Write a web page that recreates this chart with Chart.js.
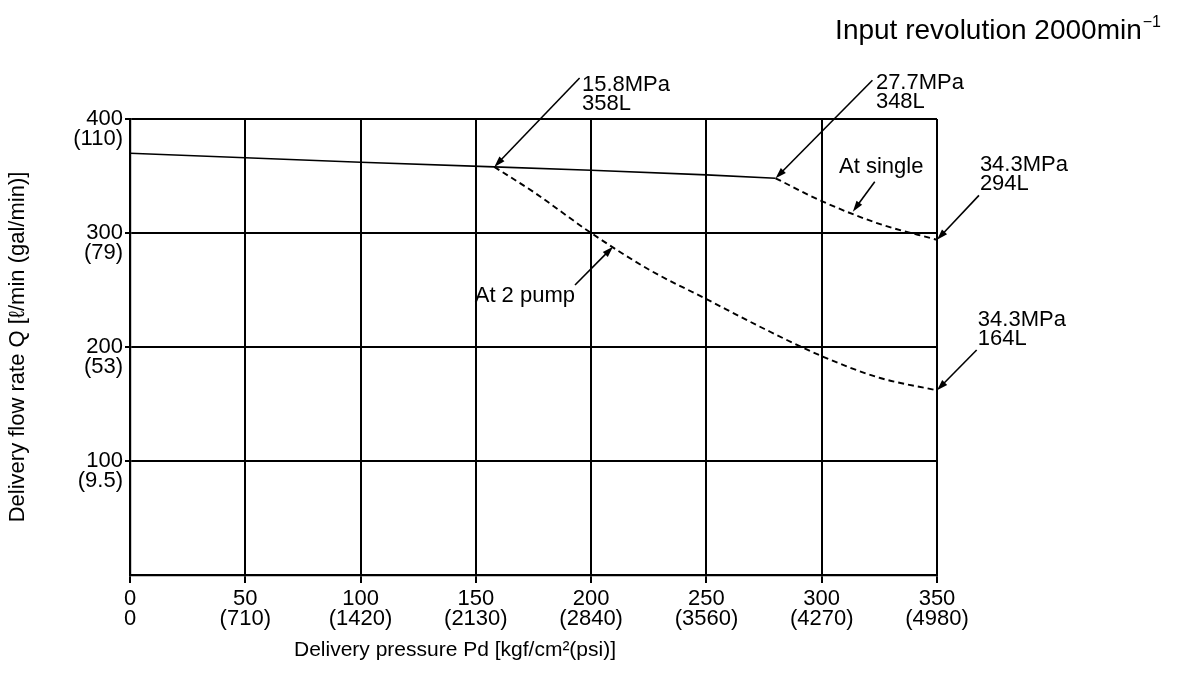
<!DOCTYPE html>
<html>
<head>
<meta charset="utf-8">
<script src="https://cdn.jsdelivr.net/npm/chart.js@4.4.1/dist/chart.umd.min.js"></script>
<style>
  html, body { margin: 0; padding: 0; background: #fff; }
  #wrap { width: 1181px; height: 690px; position: relative; }
</style>
</head>
<body>
<div id="wrap"><canvas id="chart"></canvas></div>
<script>
// ====== tick labels ======
const pressureTicks = [0, 50, 100, 150, 200, 250, 300, 350];
const psiLabels = ["0", "(710)", "(1420)", "(2130)", "(2840)", "(3560)", "(4270)", "(4980)"];
const flowTicks = [100, 200, 300, 400];
const galLabels = ["(9.5)", "(53)", "(79)", "(110)"];

// ====== curves (kgf/cm2 , L/min) ======
const baseP = [0, 50, 100, 158, 200, 250, 280];
const baseQ = [370, 366, 362, 358, 355, 351, 348];
const singleP = [280, 300, 325, 350];
const singleQ = [348, 328, 308, 294];
const twoP = [158, 175, 200, 225, 250, 275, 300, 325, 350];
const twoQ = [358, 336, 300, 268, 242, 216, 192, 173, 162];

// ====== callouts (data units) ======
const notes = [
  { text: ["15.8MPa", "358L"], at: [196, 430], from: [195, 436], to: [158, 358] },
  { text: ["27.7MPa", "348L"], at: [323.5, 431.5], from: [322, 434], to: [280, 348] },
  { text: ["At single"], at: [307.5, 358], from: [323, 345], to: [313.5, 318.7] },
  { text: ["34.3MPa", "294L"], at: [368.6, 359.6], from: [368.2, 333], to: [350, 294] },
  { text: ["34.3MPa", "164L"], at: [367.7, 223.7], from: [367.2, 197.4], to: [350, 162] },
  { text: ["At 2 pump"], at: [149.5, 245], from: [193, 254.4], to: [209.5, 288] }
];

const FONT = '"Liberation Sans", Arial, Helvetica, sans-serif';
const pts = (xs, ys) => xs.map((v, i) => ({ x: v, y: ys[i] }));

function arrow(ctx, x1, y1, x2, y2) {
  const a = Math.atan2(y2 - y1, x2 - x1);
  const len = 11, w = 3.5;
  ctx.beginPath();
  ctx.moveTo(x1, y1);
  ctx.lineTo(x2 - Math.cos(a) * len * 0.8, y2 - Math.sin(a) * len * 0.8);
  ctx.stroke();
  ctx.beginPath();
  ctx.moveTo(x2, y2);
  ctx.lineTo(x2 - Math.cos(a) * len - Math.sin(a) * w, y2 - Math.sin(a) * len + Math.cos(a) * w);
  ctx.lineTo(x2 - Math.cos(a) * len + Math.sin(a) * w, y2 - Math.sin(a) * len - Math.cos(a) * w);
  ctx.closePath();
  ctx.fill();
}

const notePlugin = {
  id: "notes",
  afterDraw(chart) {
    const { ctx, chartArea, scales: { x, y } } = chart;
    ctx.save();
    ctx.fillStyle = "#000";
    ctx.strokeStyle = "#000";
    ctx.lineWidth = 1.6;

    // callouts
    ctx.font = "22px " + FONT;
    ctx.textAlign = "left";
    ctx.textBaseline = "middle";
    notes.forEach(n => {
      const tx = x.getPixelForValue(n.at[0]);
      const ty = y.getPixelForValue(n.at[1]);
      n.text.forEach((t, i) => ctx.fillText(t, tx, ty + i * 19));
      arrow(ctx,
        x.getPixelForValue(n.from[0]), y.getPixelForValue(n.from[1]),
        x.getPixelForValue(n.to[0]), y.getPixelForValue(n.to[1]));
    });

    // top right note
    ctx.textBaseline = "alphabetic";
    ctx.textAlign = "right";
    const right = chart.width - 20;
    ctx.font = "16px " + FONT;
    const sup = "\u22121";
    ctx.fillText(sup, right, 27);
    const supW = ctx.measureText(sup).width;
    ctx.font = "28px " + FONT;
    ctx.fillText("Input revolution 2000min", right - supW - 1, 39);

    // x axis title
    ctx.font = "21px " + FONT;
    ctx.textAlign = "center";
    ctx.textBaseline = "middle";
    ctx.fillText("Delivery pressure Pd [kgf/cm\u00b2(psi)]", chartArea.left + 325, 650);
    ctx.restore();
  }
};

new Chart(document.getElementById("chart"), {
  type: "scatter",
  data: {
    datasets: [
      { label: "Base", data: pts(baseP, baseQ), showLine: true, borderColor: "#000", borderWidth: 1.6, pointRadius: 0, tension: 0 },
      { label: "At single", data: pts(singleP, singleQ), showLine: true, borderColor: "#000", borderWidth: 1.9, borderDash: [6, 4], pointRadius: 0, cubicInterpolationMode: "monotone" },
      { label: "At 2 pump", data: pts(twoP, twoQ), showLine: true, borderColor: "#000", borderWidth: 1.9, borderDash: [6, 4], pointRadius: 0, cubicInterpolationMode: "monotone" }
    ]
  },
  options: {
    responsive: true,
    maintainAspectRatio: false,
    animation: false,
    layout: { padding: { top: 119, right: 244, left: 0, bottom: 0 } },
    plugins: { legend: { display: false }, tooltip: { enabled: false }, title: { display: false } },
    scales: {
      x: {
        type: "linear",
        min: 0, max: 350,
        afterBuildTicks: s => { s.ticks = pressureTicks.map(v => ({ value: v })); },
        afterFit: s => { s.height = 115; },
        grid: { color: "#000", lineWidth: 2, tickLength: 8 },
        border: { color: "#000", width: 2.2 },
        ticks: {
          color: "#000", padding: 6, maxRotation: 0, autoSkip: false,
          font: { family: FONT, size: 22, lineHeight: 0.9 },
          callback: (v) => { const i = pressureTicks.indexOf(v); return [String(v), psiLabels[i]]; }
        }
      },
      y: {
        type: "linear",
        min: 0, max: 400,
        afterBuildTicks: s => { s.ticks = flowTicks.map(v => ({ value: v })); },
        afterFit: s => { s.width = 130; },
        grid: { color: "#000", lineWidth: 2, tickLength: 5 },
        border: { color: "#000", width: 2.2 },
        ticks: {
          color: "#000", padding: 2, autoSkip: false,
          font: { family: FONT, size: 22, lineHeight: 0.9 },
          callback: (v) => { const i = flowTicks.indexOf(v); return ["", String(v), galLabels[i]]; }
        },
        title: {
          display: true,
          text: "Delivery flow rate Q [\u2113/min (gal/min)]",
          color: "#000",
          font: { family: FONT, size: 22 },
          padding: { top: 5, bottom: 0 }
        }
      }
    }
  },
  plugins: [notePlugin]
});
</script>
</body>
</html>
